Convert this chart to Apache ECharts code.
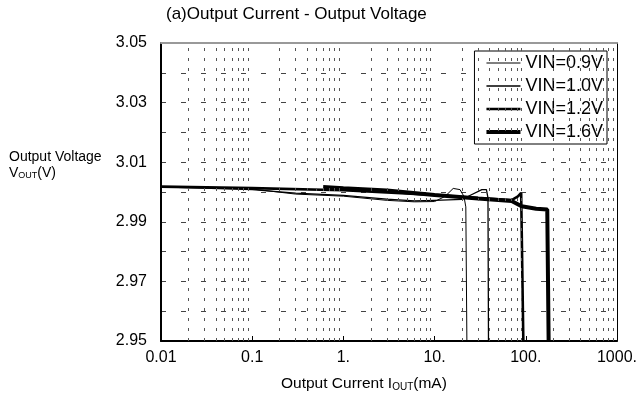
<!DOCTYPE html>
<html lang="en">
<head>
    <meta charset="UTF-8">
    <title>Output Current - Output Voltage</title>
    <script src="https://cdn.jsdelivr.net/npm/echarts@6/dist/echarts.min.js"></script>
</head>
<body style="margin: 0; background: #fff">
    <div id="chart" style="width: 640px; height: 401px"></div>
    <script>
        // data: [IOUT (mA), VOUT (V)]
        var vin09 = [[0.01, 3.0018], [0.03, 3.0015], [0.1, 3.0010], [0.3, 2.9993], [1, 2.9986], [3, 2.9972],
            [6, 2.9967], [10, 2.9968], [13, 2.9985], [16, 3.0012], [19, 3.0008], [21, 2.9985], [22, 2.995], [22.6, 2.95]];
        var vin10 = [[0.01, 3.0017], [0.1, 3.0008], [0.3, 2.9996], [1, 2.9989], [3, 2.9976], [6, 2.9970],
            [10, 2.9972], [20, 2.9975], [25, 2.9990], [33, 3.0008], [37, 3.0008], [38.5, 2.998], [39, 2.95]];
        var vin12 = [[0.01, 3.0018], [0.1, 3.0013], [1, 3.0006], [10, 2.9990], [30, 2.9980], [70, 2.9973],
            [82, 2.9985], [89, 2.9997], [93, 2.9992], [94, 2.95]];
        var vin16 = [[0.6, 3.0017], [1, 3.0013], [3, 3.0005], [10, 2.9990], [30, 2.9978], [70, 2.9970],
            [90, 2.9952], [130, 2.9944], [172, 2.9941], [178, 2.95]];
        var seriesNames = ['VIN=0.9V', 'VIN=1.0V', 'VIN=1.2V', 'VIN=1.6V'];
        var lineWidths = [1, 1.3, 2.6, 4];

        var xLabels = { '0.01': '0.01', '0.1': '0.1', '1': '1.', '10': '10.', '100': '100.', '1000': '1000.' };
        var decades = [0.01, 0.1, 1, 10, 100];
        var minorSteps = [2, 3, 4, 5, 6, 7, 8, 9];

        var chart = echarts.init(document.getElementById('chart'));

        // dotted verticals at 2..9 of every decade
        var minorLines = [];
        decades.forEach(function (d) {
            minorSteps.forEach(function (m) {
                minorLines.push({ xAxis: +(d * m).toPrecision(3) });
            });
        });

        var font = 'Liberation Sans, Arial, sans-serif';
        var allData = [vin09, vin10, vin12, vin16];
        var series = allData.map(function (d, i) {
            return {
                name: seriesNames[i],
                type: 'line',
                data: d,
                symbol: 'none',
                color: '#000',
                lineStyle: { color: '#000', width: lineWidths[i] },
                z: 3
            };
        });
        series.push({
            type: 'line',
            data: [],
            silent: true,
            markLine: {
                silent: true,
                symbol: 'none',
                label: { show: false },
                lineStyle: { color: '#555', width: 1, type: [3, 7] },
                data: minorLines
            }
        });

        var legendData = seriesNames.map(function (n, i) {
            return { name: n, lineStyle: { color: '#000', width: lineWidths[i] } };
        });

        chart.setOption({
            animation: false,
            grid: { left: 161, right: 20, top: 43, bottom: 60 },
            legend: {
                data: legendData,
                orient: 'vertical',
                right: 33,
                top: 51,
                backgroundColor: '#fff',
                borderColor: '#000',
                borderWidth: 1,
                padding: [3, 4, 3, 10],
                itemWidth: 34,
                itemHeight: 14,
                itemGap: 5,
                itemStyle: { opacity: 0 },
                textStyle: { fontFamily: font, fontSize: 18, color: '#000' }
            },
            xAxis: [{
                type: 'log',
                logBase: 10,
                min: 0.01,
                max: 1000,
                axisLine: { lineStyle: { color: '#000', width: 2 } },
                axisTick: { inside: true, length: 5, lineStyle: { color: '#000' } },
                axisLabel: {
                    margin: 9,
                    fontFamily: font,
                    fontSize: 16,
                    color: '#000',
                    formatter: function (v) {
                        var k = String(+v.toPrecision(3));
                        return xLabels[k] !== undefined ? xLabels[k] : '';
                    }
                },
                splitLine: { show: false }
            }, {
                type: 'log',
                position: 'top',
                min: 0.01,
                max: 1000,
                axisLine: { lineStyle: { color: '#999', width: 2 } },
                axisTick: { show: false },
                axisLabel: { show: false },
                splitLine: { show: false }
            }],
            yAxis: [{
                type: 'value',
                min: 2.95,
                max: 3.05,
                interval: 0.01,
                axisLine: { show: true, lineStyle: { color: '#000', width: 2 } },
                axisTick: { show: false },
                axisLabel: {
                    margin: 14,
                    fontFamily: font,
                    fontSize: 16,
                    color: '#000',
                    formatter: function (v) {
                        return Math.round(v * 100) % 2 === 1 ? v.toFixed(2) : '';
                    }
                },
                splitLine: { show: true, lineStyle: { color: '#444', width: 1, type: [5, 15] } }
            }, {
                type: 'value',
                position: 'right',
                min: 2.95,
                max: 3.05,
                axisLine: { show: true, lineStyle: { color: '#000', width: 1 } },
                axisTick: { show: false },
                axisLabel: { show: false },
                splitLine: { show: false }
            }],
            graphic: [{
                type: 'text',
                left: 166,
                top: 6,
                style: { text: '(a)Output Current - Output Voltage', font: '17px ' + font, fill: '#000' }
            }, {
                type: 'text',
                left: 9,
                top: 150,
                style: { text: 'Output Voltage', font: '14px ' + font, fill: '#000' }
            }, {
                type: 'text',
                left: 9,
                top: 166,
                style: {
                    text: '{a|V}{s|OUT}{a|(V)}',
                    rich: {
                        a: { fontFamily: font, fontSize: 14, fill: '#000', verticalAlign: 'bottom' },
                        s: { fontFamily: font, fontSize: 9, fill: '#000', verticalAlign: 'bottom' }
                    }
                }
            }, {
                type: 'text',
                left: 281,
                top: 376,
                style: {
                    text: '{a|Output Current I}{s|OUT}{a|(mA)}',
                    rich: {
                        a: { fontFamily: font, fontSize: 15.5, fill: '#000', verticalAlign: 'bottom' },
                        s: { fontFamily: font, fontSize: 10, fill: '#000', verticalAlign: 'bottom' }
                    }
                }
            }],
            series: series
        });
    </script>
</body>
</html>
